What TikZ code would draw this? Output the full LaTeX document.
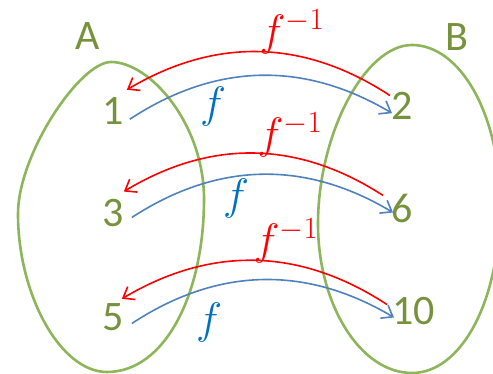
\RequirePackage{fix-cm}
\documentclass[tikz,border=0pt]{standalone}
\usepackage{fontspec}
\setmainfont{Carlito}
\usetikzlibrary{arrows.meta}

\definecolor{setgreen}{HTML}{8DB55A}
\definecolor{elemgreen}{HTML}{76923C}
\definecolor{arrowblue}{HTML}{4F81BD}
\definecolor{labelblue}{HTML}{0070C0}

\tikzset{
  setline/.style={draw=setgreen, line width=2.6pt},
  setname/.style={text=elemgreen, font=\fontsize{42}{48}\selectfont},
  elem/.style={text=elemgreen, inner sep=0pt, font=\fontsize{42}{48}\selectfont},
  fwd/.style={draw=arrowblue, line width=1.6pt, -{Straight Barb[length=10pt,width=15pt]}, bend left=32},
  inv/.style={draw=red, line width=1.6pt, -{Straight Barb[length=10pt,width=15pt]}, bend right=32},
  fwdlabel/.style={text=labelblue, inner sep=0pt, font=\fontsize{44}{50}\selectfont},
  invlabel/.style={text=red, inner sep=0pt, font=\fontsize{44}{50}\selectfont},
}

\begin{document}
\begin{tikzpicture}[x=1pt, y=1pt]
  \useasboundingbox (0,0) rectangle (493,374);
  \clip (0,0) rectangle (493,374);

  % Sets A and B
  \draw[setline] (111,312) .. controls (150,312) and (204,250) .. (204,175)
    .. controls (204,80) and (165,2) .. (107,2)
    .. controls (60,2) and (18,80) .. (18,160)
    .. controls (18,220) and (80,312) .. (111,312) -- cycle;
  \draw[setline] (412,329) .. controls (460,329) and (500,260) .. (500,170)
    .. controls (500,70) and (460,1) .. (412,1)
    .. controls (360,1) and (318,70) .. (318,150)
    .. controls (318,240) and (365,329) .. (412,329) -- cycle;
  \node[setname] (setA) at (88,338) {A};
  \node[setname] (setB) at (457,337) {B};

  % Elements of A
  \node[elem, anchor=base] (a1) at (113,249) {1};
  \node[elem, anchor=base] (a3) at (113,147) {3};
  \node[elem, anchor=base] (a5) at (113,43) {5};

  % Elements of B
  \node[elem, anchor=base west] (b2) at (391,254) {2};
  \node[elem, anchor=base west] (b6) at (391,151) {6};
  \node[elem, anchor=base west] (b10) at (392,49) {10};

  % f and its inverse
  \draw[fwd] ([shift={(6pt,6pt)}]a1.south east) to ([shift={(1pt,7pt)}]b2.south west);
  \draw[inv] ([shift={(-1pt,-3pt)}]b2.north west) to ([shift={(3pt,8pt)}]a1.north east);
  \draw[fwd] ([shift={(8pt,10pt)}]a3.south east) to ([shift={(2pt,11pt)}]b6.south west);
  \draw[inv] ([shift={(-8pt,-1pt)}]b6.north west) to ([shift={(0pt,8pt)}]a3.north east);
  \draw[fwd] ([shift={(8pt,8pt)}]a5.south east) to ([shift={(2pt,8pt)}]b10.south west);
  \draw[inv] ([shift={(-5pt,-7pt)}]b10.north west) to ([shift={(-2pt,5pt)}]a5.north east);

  \node[invlabel] (inv1) at (292,342) {$f^{-1}$};
  \node[invlabel] (inv3) at (290,239) {$f^{-1}$};
  \node[invlabel] (inv5) at (286,133) {$f^{-1}$};
  \node[fwdlabel] (fwd1) at (213,267) {$f$};
  \node[fwdlabel] (fwd3) at (236,175) {$f$};
  \node[fwdlabel] (fwd5) at (209,51) {$f$};
\end{tikzpicture}
\end{document}
